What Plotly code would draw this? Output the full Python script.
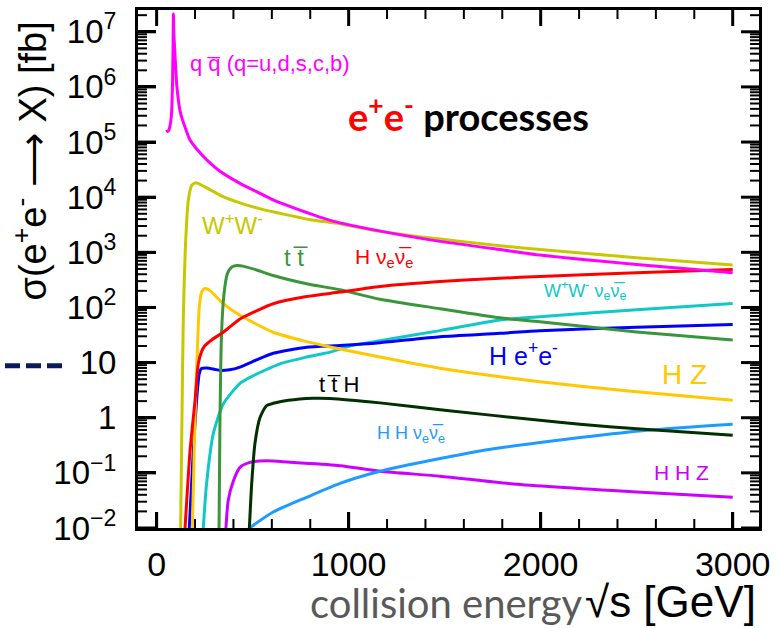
import plotly.graph_objects as go

# ---------------- data (sqrt(s) in GeV, cross-section in fb) ----------------
E_qq = [52, 57, 63, 70, 76, 80, 83, 85.5, 87.5, 90, 95, 100, 105, 112, 121, 135, 150, 173, 210, 260,
        330, 434, 520, 607, 750, 903, 1200, 1476, 1750, 1996, 2500, 3000]
S_qq = [1.66e5, 1.55e5, 1.62e5, 2.0e5, 2.8e5, 5.0e5, 1.26e6, 5.0e6, 2.1e7, 8.9e6, 4.2e6, 2.0e6, 1.07e6,
        6.3e5, 3.8e5, 2.5e5, 1.78e5, 1.1e5, 7.4e4, 4.8e4, 2.95e4, 1.78e4, 1.26e4, 8.9e3, 5.75e3, 3.8e3,
        2.3e3, 1.58e3, 1.17e3, 890, 600, 425]

E_ww = [125, 132, 139, 149, 165, 182, 200, 215, 260, 340, 434, 550, 642, 800, 955, 1163, 1476, 1788,
        1996, 2500, 3000]
S_ww = [0.01, 1, 66, 1070, 8700, 1.62e4, 1.82e4, 1.78e4, 1.48e4, 1.05e4, 7.9e3, 6.0e3, 5.1e3, 3.9e3,
        3.3e3, 2.4e3, 1.74e3, 1.32e3, 1.12e3, 800, 590]

E_tt = [325, 330, 338, 351, 368, 390, 417, 450, 520, 607, 781, 955, 1163, 1476, 1788, 1996, 2500, 3000]
S_tt = [0.01, 1, 33, 178, 407, 537, 575, 562, 479, 380, 269, 209, 141, 95, 65, 55, 36, 25.7]

E_hnn = [148, 174, 200, 217, 234, 250, 290, 347, 434, 521, 607, 781, 955, 1163, 1476, 1788, 1996, 2500, 3000]
S_hnn = [0.01, 0.25, 2.04, 9.5, 15.8, 20, 26.3, 35.5, 61.7, 87, 117, 158, 190, 240, 295, 339, 363, 427, 490]

E_wwnn = [243, 260, 295, 347, 434, 486, 642, 781, 903, 1007, 1163, 1476, 1788, 1996, 2500, 3000]
S_wwnn = [0.01, 0.063, 0.51, 1.78, 4.2, 5.4, 9.5, 12.6, 15.5, 20, 25, 38, 59, 68, 91, 118]

E_hee = [170, 191, 208, 222, 234, 260, 300, 330, 380, 434, 521, 607, 781, 955, 1163, 1476, 1788, 1996, 2500, 3000]
S_hee = [0.01, 0.25, 2.04, 6.3, 7.8, 8.0, 7.6, 7.2, 7.4, 8.3, 11.2, 14.8, 19, 20.4, 22.9, 29.5, 33.9, 38, 43.7, 49]

E_hz = [186, 200, 212, 222, 234, 250, 260, 280, 347, 434, 607, 781, 910, 1163, 1476, 1996, 2500, 3000]
S_hz = [0.01, 1, 16.6, 100, 190, 219, 219, 200, 117, 72, 35.5, 24, 19, 12.6, 7.9, 4.5, 2.95, 2.07]

E_tth = [483, 495, 512, 538, 573, 642, 746, 815, 903, 1163, 1511, 1996, 2205, 2500, 3000]
S_tth = [0.01, 0.063, 0.34, 1.0, 1.66, 1.95, 2.19, 2.26, 2.24, 1.86, 1.35, 0.90, 0.76, 0.63, 0.48]

E_hhnn = [483, 607, 781, 955, 1163, 1476, 1684, 1996, 2205, 2554, 3000]
S_hhnn = [0.01, 0.0195, 0.036, 0.0645, 0.107, 0.182, 0.25, 0.355, 0.436, 0.59, 0.76]

E_hhz = [361, 373, 400, 434, 486, 573, 694, 955, 1163, 1476, 1858, 2500, 3000]
S_hhz = [0.01, 0.032, 0.072, 0.126, 0.155, 0.166, 0.155, 0.135, 0.107, 0.087, 0.063, 0.045, 0.036]

x_tickvals = [0, 1000, 2000, 3000]
x_ticktext = ["0", "1000", "2000", "3000"]
x_minor = [v for v in range(0, 3001, 200) if v not in x_tickvals]
y_tickvals = [1e-2, 1e-1, 1, 10, 1e2, 1e3, 1e4, 1e5, 1e6, 1e7]
y_ticktext = ["10<sup>\u22122</sup>", "10<sup>\u22121</sup>", "1", "10", "10<sup>2</sup>",
              "10<sup>3</sup>", "10<sup>4</sup>", "10<sup>5</sup>", "10<sup>6</sup>", "10<sup>7</sup>"]
X_RANGE = [-97, 3137]
Y_RANGE = [-2, 7.395]
y_minor = [k * 10 ** d for d in range(-2, 8) for k in range(2, 10) if k * 10 ** d < 10 ** Y_RANGE[1]]

BAR = "\u0305"
series = [
    (E_hhz, S_hhz, "#cc00ff"),
    (E_hhnn, S_hhnn, "#1e9bff"),
    (E_tth, S_tth, "#003000"),
    (E_wwnn, S_wwnn, "#10c8c8"),
    (E_hee, S_hee, "#0000ff"),
    (E_hz, S_hz, "#ffc800"),
    (E_tt, S_tt, "#3a963a"),
    (E_hnn, S_hnn, "#ff0000"),
    (E_ww, S_ww, "#c8c800"),
    (E_qq, S_qq, "#ff00ff"),
]

fig = go.Figure()
for xs, ys, col in series:
    fig.add_trace(go.Scatter(x=xs, y=ys, mode="lines",
                             line=dict(color=col, width=3, shape="spline", smoothing=0.6),
                             showlegend=False, hoverinfo="skip"))

FONT = "Liberation Sans, Arial, sans-serif"
labels = [
    ("q q" + BAR + " (q=u,d,s,c,b)", 162, 6.43, "#ff00ff", 22),
    ("W<sup>+</sup>W<sup>-</sup>", 226, 3.51, "#c8c800", 24),
    ("t t" + BAR, 651, 2.9, "#3a963a", 24),
    ("H \u03bd<sub>e</sub>\u03bd" + BAR + "<sub>e</sub>", 1022, 2.89, "#ff0000", 21),
    ("W<sup>+</sup>W<sup>-</sup> \u03bd<sub>e</sub>\u03bd" + BAR + "<sub>e</sub>", 2005, 2.31, "#10c8c8", 18),
    ("H e<sup>+</sup>e<sup>-</sup>", 1719, 1.15, "#0000ff", 25),
    ("H Z", 2621, 0.79, "#ffc800", 28),
    ("t t" + BAR + " H", 833, 0.61, "#000000", 22),
    ("H H \u03bd<sub>e</sub>\u03bd" + BAR + "<sub>e</sub>", 1137, -0.30, "#1e9bff", 18),
    ("H H Z", 2578, -1.0, "#cc00ff", 21),
]
for txt, x, y, col, sz in labels:
    fig.add_annotation(x=x, y=y, xref="x", yref="y", text=txt, showarrow=False,
                       xanchor="left", yanchor="middle", font=dict(family=FONT, size=sz, color=col))

fig.add_annotation(x=(468 - 138) / 621, y=(528 - 114) / 518, xref="paper", yref="paper",
                   text="<b><span style='color:#ff0000'>e<sup>+</sup>e<sup>-</sup></span> processes</b>",
                   showarrow=False, xanchor="center", yanchor="middle",
                   font=dict(family="Lato, sans-serif", size=38, color="#000000"))

fig.add_annotation(x=(30 - 138) / 621, y=(528 - 161.5) / 518, xref="paper", yref="paper",
                   text="\u03c3(e<sup>+</sup>e<sup>-</sup> \u27f6 X) [fb]", textangle=-90,
                   showarrow=False, xanchor="center", yanchor="middle",
                   font=dict(family=FONT, size=38, color="#000000"))

fig.add_annotation(x=(585 - 138) / 621, y=(528 - 603) / 518, xref="paper", yref="paper",
                   text="collision energy", showarrow=False, xanchor="right", yanchor="middle",
                   font=dict(family="Lato, sans-serif", size=40, color="#595959"))
fig.add_annotation(x=(583 - 138) / 621, y=(528 - 601) / 518, xref="paper", yref="paper",
                   text="\u221as [GeV]", showarrow=False, xanchor="left", yanchor="middle",
                   font=dict(family=FONT, size=44, color="#000000"))

fig.add_shape(type="line", xref="paper", yref="y", x0=(5 - 138) / 621, x1=(63 - 138) / 621,
              y0=8.79, y1=8.79, line=dict(color="#0b1a5e", width=5, dash="15px,6px"))

# inside tick marks on all four sides, placed from the tick value lists
TICK_COLOR = "#000000"
PLOT_W, PLOT_H = 621, 518
def xtick(v, length, width):
    for y0, y1 in [(0, length / PLOT_H), (1, 1 - length / PLOT_H)]:
        fig.add_shape(type="line", xref="x", yref="paper", x0=v, x1=v, y0=y0, y1=y1,
                      line=dict(color=TICK_COLOR, width=width), layer="above")
def ytick(v, length, width):
    for x0, x1 in [(0, length / PLOT_W), (1, 1 - length / PLOT_W)]:
        fig.add_shape(type="line", xref="paper", yref="y", x0=x0, x1=x1, y0=v, y1=v,
                      line=dict(color=TICK_COLOR, width=width), layer="above")
for v in x_tickvals:
    xtick(v, 16, 3)
for v in x_minor:
    xtick(v, 9, 2)
for v in y_tickvals:
    ytick(v, 18, 3)
for v in y_minor:
    ytick(v, 9, 2)

fig.update_layout(
    template="none",
    width=779, height=628,
    margin=dict(l=138, r=20, t=10, b=100),
    paper_bgcolor="white", plot_bgcolor="white",
    font=dict(family=FONT, color="black"),
    xaxis=dict(range=X_RANGE, showgrid=False, zeroline=False,
               showline=True, linewidth=3, linecolor="black", mirror=True,
               ticks="inside", ticklen=16, tickwidth=3, tickcolor="#000000",
               tickmode="array", tickvals=x_tickvals, ticktext=x_ticktext,
               tickfont=dict(family=FONT, size=34, color="black"), ticklabelstandoff=4),
    yaxis=dict(type="log", range=Y_RANGE, showgrid=False, zeroline=False,
               showline=True, linewidth=3, linecolor="black", mirror=True,
               ticks="inside", ticklen=18, tickwidth=3, tickcolor="#000000",
               tickmode="array", tickvals=y_tickvals, ticktext=y_ticktext,
               tickfont=dict(family=FONT, size=33, color="black"), ticklabelstandoff=12),
)

fig.write_html("out.html")
